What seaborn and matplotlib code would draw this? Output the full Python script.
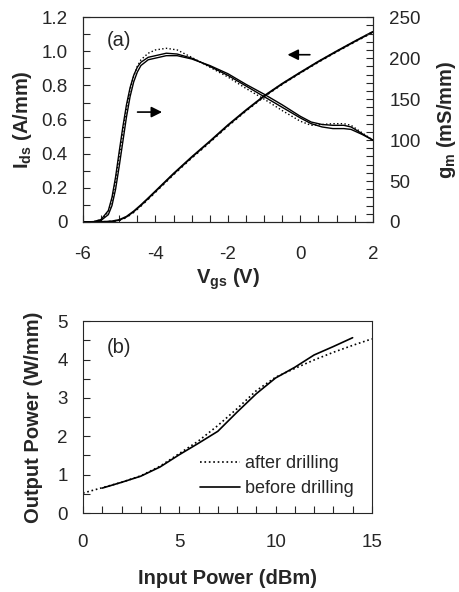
import numpy as np
import pandas as pd
import matplotlib
matplotlib.use("Agg")
import matplotlib.pyplot as plt
from matplotlib.ticker import MultipleLocator, FuncFormatter
import seaborn as sns

sns.set_style("ticks")
plt.rcParams['font.family'] = ['Liberation Sans', 'DejaVu Sans']
plt.rcParams['mathtext.fontset'] = 'custom'
plt.rcParams['mathtext.rm'] = 'Liberation Sans'
plt.rcParams['mathtext.bf'] = 'Liberation Sans:bold'
plt.rcParams['axes.unicode_minus'] = False

# (a) transfer characteristics
vgs_ids = [-6, -5.6, -5.4, -5.2, -5.0, -4.8, -4.6, -4.4, -4.2, -4.0, -3.5, -3.0,
           -2.5, -2.0, -1.5, -1.0, -0.5, 0.0, 0.5, 1.0, 1.5, 2.0]
ids_before = [0, 0, 0.001, 0.004, 0.012, 0.031, 0.062, 0.099, 0.139, 0.18, 0.283, 0.38,
              0.472, 0.567, 0.655, 0.738, 0.81, 0.876, 0.94, 1.0, 1.058, 1.114]
ids_after = [0, 0, 0.001, 0.003, 0.01, 0.028, 0.058, 0.095, 0.135, 0.176, 0.279, 0.376,
             0.468, 0.563, 0.652, 0.735, 0.808, 0.874, 0.938, 0.998, 1.056, 1.112]

vgs_gm = [-6, -5.7, -5.5, -5.3, -5.2, -5.1, -5.0, -4.9, -4.8, -4.7, -4.6, -4.5, -4.4,
          -4.2, -4.0, -3.7, -3.4, -3.0, -2.5, -2.0, -1.5, -1.0, -0.5, 0.0, 0.3, 0.6,
          0.9, 1.2, 1.4, 1.7, 2.0]
gm_before1 = [0, 0.5, 3, 14, 30, 55, 86, 116, 143, 164, 179, 189, 195,
              201, 203, 206, 205, 200, 190, 179, 166, 153, 140, 127, 120, 116,
              114, 114, 113, 107, 100]
gm_before2 = [0, 0.3, 2, 9, 20, 40, 68, 98, 128, 153, 171, 183, 191,
              198, 200, 203, 203, 199, 191, 181, 168, 156, 143, 129, 122, 119,
              118, 118, 116, 108, 100]
gm_after = [0, 0.4, 3, 12, 26, 50, 80, 110, 138, 161, 178, 190, 198,
            206, 210, 212, 210, 201, 189, 177, 163, 150, 136, 123, 118, 119,
            120, 120, 118, 109, 100]

# (b) power sweep
pin_after = [0, 1, 2, 3, 4, 5, 6, 7, 8, 9, 10, 11, 12, 13, 14, 15]
pout_after = [0.52, 0.66, 0.8, 0.97, 1.22, 1.55, 1.88, 2.28, 2.72, 3.19, 3.54, 3.77,
              3.99, 4.19, 4.37, 4.54]
pin_before = [1, 2, 3, 4, 5, 6, 7, 8, 9, 10, 11, 12, 13, 14]
pout_before = [0.65, 0.8, 0.96, 1.2, 1.52, 1.82, 2.13, 2.63, 3.11, 3.52, 3.8, 4.12,
               4.34, 4.57]

fs_tick = 13.5
fs_lab = 14.5

fig = plt.figure(figsize=(4.6, 5.92), dpi=100)
ax1 = fig.add_axes([0.1804, 0.625, 0.630, 0.346])
ax2 = ax1.twinx()
ax3 = fig.add_axes([0.1804, 0.1334, 0.628, 0.324])

lw = 1.0
sns.lineplot(x=vgs_ids, y=ids_before, ax=ax1, color='k', lw=lw + 0.4)
sns.lineplot(x=vgs_ids, y=ids_after, ax=ax1, color='k', lw=lw + 0.4, linestyle=':')
sns.lineplot(x=vgs_gm, y=gm_before1, ax=ax2, color='k', lw=lw)
sns.lineplot(x=vgs_gm, y=gm_before2, ax=ax2, color='k', lw=lw)
sns.lineplot(x=vgs_gm, y=gm_after, ax=ax2, color='k', lw=lw, linestyle=':')

ax1.set_xlim(-6, 2)
ax1.set_ylim(0, 1.2)
ax2.set_ylim(0, 250)
ax1.xaxis.set_major_locator(MultipleLocator(2))
ax1.xaxis.set_minor_locator(MultipleLocator(0.5))
ax1.yaxis.set_major_locator(MultipleLocator(0.2))
ax1.yaxis.set_minor_locator(MultipleLocator(0.1))
ax1.yaxis.set_major_formatter(FuncFormatter(lambda v, p: "0" if abs(v) < 1e-9 else f"{v:.1f}"))
ax2.yaxis.set_major_locator(MultipleLocator(50))
ax2.yaxis.set_minor_locator(MultipleLocator(10))

ax1.set_xlabel(r"$\mathbf{V_{gs}}$ (V)", fontsize=fs_lab, fontweight='bold')
ax1.set_ylabel(r"$\mathbf{I_{ds}}$ (A/mm)", fontsize=fs_lab, fontweight='bold')
ax2.set_ylabel(r"$\mathbf{g_m}$ (mS/mm)", fontsize=fs_lab, fontweight='bold')
ax1.xaxis.set_label_coords(0.5, -0.215)
ax1.yaxis.set_label_coords(-0.17, 0.5)
ax2.yaxis.set_label_coords(1.215, 0.5)

ax1.text(-5.34, 1.065, "(a)", fontsize=fs_lab, va='center')
ax1.annotate("", xy=(-0.43, 0.98), xytext=(0.34, 0.98),
             arrowprops=dict(arrowstyle='-|>', color='k', lw=1.2, mutation_scale=16))
ax1.annotate("", xy=(-3.74, 0.644), xytext=(-4.57, 0.644),
             arrowprops=dict(arrowstyle='-|>', color='k', lw=1.2, mutation_scale=16))

sns.lineplot(x=pin_after, y=pout_after, ax=ax3, color='k', lw=lw + 0.2, linestyle=':',
             label="after drilling")
sns.lineplot(x=pin_before, y=pout_before, ax=ax3, color='k', lw=lw + 0.2,
             label="before drilling")
ax3.set_xlim(0, 15)
ax3.set_ylim(0, 5)
ax3.xaxis.set_major_locator(MultipleLocator(5))
ax3.xaxis.set_minor_locator(MultipleLocator(1))
ax3.yaxis.set_major_locator(MultipleLocator(1))
ax3.yaxis.set_minor_locator(MultipleLocator(0.5))
ax3.set_xlabel("Input Power (dBm)", fontsize=fs_lab, fontweight='bold')
ax3.set_ylabel("Output Power (W/mm)", fontsize=fs_lab, fontweight='bold')
ax3.xaxis.set_label_coords(0.5, -0.29)
ax3.yaxis.set_label_coords(-0.14, 0.5)
ax3.text(1.25, 4.32, "(b)", fontsize=fs_lab, va='center')
ax3.legend(loc='center left', bbox_to_anchor=(0.375, 0.193), frameon=False, fontsize=13,
           handlelength=2.2, handletextpad=0.3, labelspacing=0.45, borderpad=0)

for ax in (ax1, ax2, ax3):
    ax.tick_params(which='both', direction='in', length=5, width=0.8, labelsize=fs_tick)
    for s in ax.spines.values():
        s.set_linewidth(0.8)
ax1.tick_params(axis='x', which='both', pad=17)
ax3.tick_params(axis='x', which='both', pad=15)
ax1.tick_params(axis='y', which='both', right=False, pad=11)
ax2.tick_params(axis='y', which='both', right=True, left=False, pad=12)
ax3.tick_params(axis='y', which='both', pad=11)

fig.savefig("out.png", dpi=100)
